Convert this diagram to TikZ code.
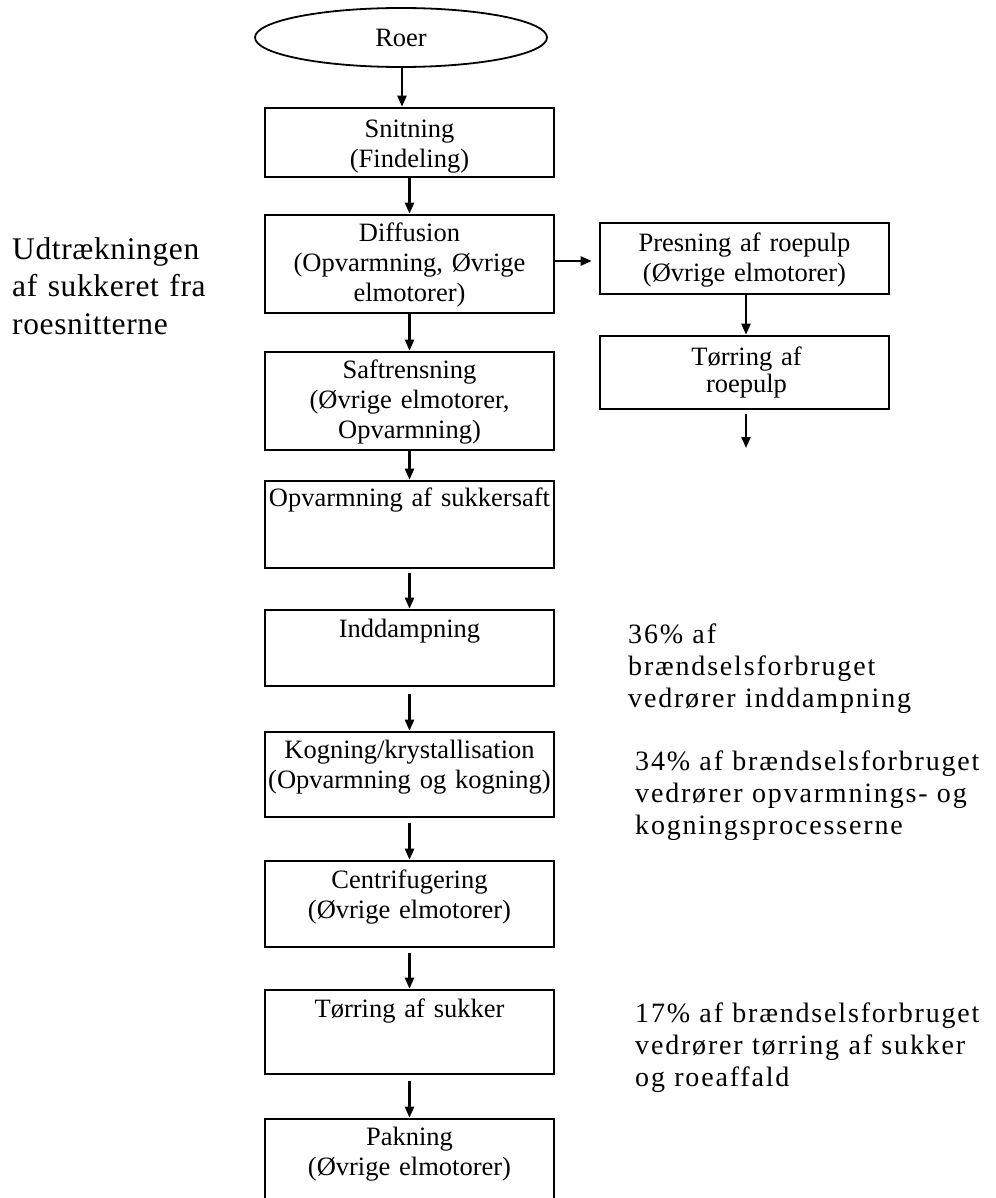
\documentclass[tikz,border=0pt]{standalone}
\usepackage{fontspec}
\setmainfont{Liberation Serif}
\newfontfamily\notefont{Liberation Serif}[LetterSpace=6.5]
\newfontfamily\sidefont{Liberation Serif}[LetterSpace=2]
\usetikzlibrary{arrows.meta,shapes.geometric}

\tikzset{
  procbox/.style={draw, line width=2.6pt, rectangle, inner sep=0pt,
    minimum width=289pt},
  boxtext/.style={inner sep=0pt, anchor=base, text width=289pt, align=center,
    font=\fontsize{26.5}{30}\selectfont},
  flow/.style={line width=2.2pt, -{Triangle[length=11pt,width=9pt]}},
  note/.style={inner sep=0pt, anchor=base west, text width=360pt, align=left,
    font=\notefont\fontsize{28}{32}\selectfont},
  sidenote/.style={inner sep=0pt, anchor=base west, text width=240pt, align=left,
    font=\sidefont\fontsize{31.5}{37.5}\selectfont}
}

\begin{document}
\begin{tikzpicture}[x=1pt, y=-1pt]
\useasboundingbox (0,0) rectangle (995,1198);
\fill[white] (0,0) rectangle (995,1198);
\clip (0,0) rectangle (995,1198);

% start of the process
\node[draw, ellipse, line width=1.8pt, inner sep=0pt, minimum width=292pt,
  minimum height=59pt, font=\fontsize{26.5}{30}\selectfont] (roer) at (401,37.5) {Roer};

% main process column
\node[procbox, minimum height=69pt] (snit) at (409.5,142.5) {};
\node[procbox, minimum height=98pt] (diff) at (409.5,264) {};
\node[procbox, minimum height=98pt] (saft) at (409.5,401) {};
\node[procbox, minimum height=87pt] (opv)  at (409.5,524.5) {};
\node[procbox, minimum height=76pt] (indd) at (409.5,648) {};
\node[procbox, minimum height=85pt] (kog)  at (409.5,774.5) {};
\node[procbox, minimum height=86pt] (cent) at (409.5,904) {};
\node[procbox, minimum height=84pt] (torr) at (409.5,1032) {};
\node[procbox, minimum height=96pt] (pak)  at (409.5,1167) {};

% pulp branch
\node[procbox, minimum height=71pt] (pres)  at (744.5,258.5) {};
\node[procbox, minimum height=73pt] (tpulp) at (744.5,372.5) {};
\coordinate (pulpout) at (746,448);

% box texts, top aligned
\node[boxtext] (snit-t) at ([yshift=-31pt]snit.north) {Snitning\\(Findeling)};
\node[boxtext] (diff-t) at ([yshift=-28pt]diff.north) {Diffusion\\(Opvarmning, Øvrige\\elmotorer)};
\node[boxtext] (saft-t) at ([yshift=-28pt]saft.north) {Saftrensning\\(Øvrige elmotorer,\\Opvarmning)};
\node[boxtext] (opv-t)  at ([yshift=-27pt]opv.north)  {Opvarmning af sukkersaft};
\node[boxtext] (indd-t) at ([yshift=-29pt]indd.north) {Inddampning};
\node[boxtext] (kog-t)  at ([yshift=-28pt]kog.north)  {Kogning/krystallisation\\(Opvarmning og kogning)};
\node[boxtext] (cent-t) at ([yshift=-29pt]cent.north) {Centrifugering\\(Øvrige elmotorer)};
\node[boxtext] (torr-t) at ([yshift=-29pt]torr.north) {Tørring af sukker};
\node[boxtext] (pak-t)  at ([yshift=-28pt]pak.north)  {Pakning\\(Øvrige elmotorer)};
\node[boxtext] (pres-t) at ([yshift=-30pt]pres.north) {Presning af roepulp\\(Øvrige elmotorer)};
\node[boxtext, font=\fontsize{26.5}{27}\selectfont] (tpulp-t) at ([xshift=2pt,yshift=-31pt]tpulp.north) {Tørring af\\roepulp};

% connectors
\draw[flow] (roer.south -| 402,0) -- (402,0 |- snit.north);
\draw[flow] (snit) -- (diff);
\draw[flow] (diff) -- (saft);
\draw[flow] (saft) -- (opv);
\draw[flow, shorten <=4pt] (opv) -- (indd);
\draw[flow, shorten <=7pt] (indd) -- (kog);
\draw[flow, shorten <=5pt] (kog) -- (cent);
\draw[flow, shorten <=5pt] (cent) -- (torr);
\draw[flow, shorten <=6pt] (torr) -- (pak);
\draw[flow, shorten >=7pt] ([yshift=3pt]diff.east) -- ([yshift=3pt]diff.east -| pres.west);
\draw[flow] (pres.south -| 746,0) -- (746,0 |- tpulp.north);
\draw[flow, shorten <=4pt] (tpulp.south -| pulpout) -- (pulpout);

% side remarks
\node[sidenote] (udtr) at (12,259) {Udtrækningen\\af sukkeret fra\\roesnitterne};
\node[note] (n36) at (628,643) {36\% af\\brændselsforbruget\\vedrører inddampning};
\node[note] (n34) at (635,770) {34\% af brændselsforbruget\\vedrører opvarmnings- og\\kogningsprocesserne};
\node[note] (n17) at (635,1022) {17\% af brændselsforbruget\\vedrører tørring af sukker\\og roeaffald};
\end{tikzpicture}
\end{document}
